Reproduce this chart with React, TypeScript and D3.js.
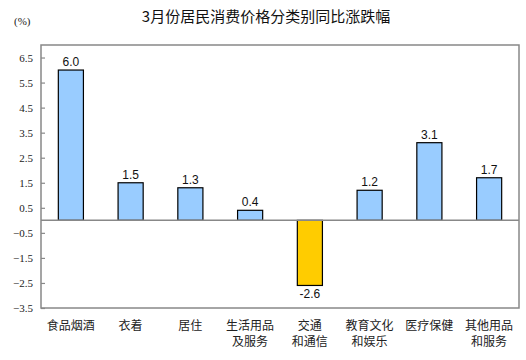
import * as d3 from 'd3';
import React, { useEffect, useRef } from 'react';

const categories = ['食品烟酒', '衣着', '居住', '生活用品\n及服务', '交通\n和通信', '教育文化\n和娱乐', '医疗保健', '其他用品\n和服务'];
const values = [6.0, 1.5, 1.3, 0.4, -2.6, 1.2, 3.1, 1.7];
const yTicks = [6.5, 5.5, 4.5, 3.5, 2.5, 1.5, 0.5, -0.5, -1.5, -2.5, -3.5];

const App: React.FC = () => {
    const svgRef = useRef<SVGSVGElement | null>(null);

    useEffect(() => {
        const width = 526;
        const height = 360;
        const margin = { top: 45, right: 7, bottom: 52, left: 41 };

        d3.select(svgRef.current).selectAll('*').remove();

        const svg = d3
            .select(svgRef.current)
            .attr('width', width)
            .attr('height', height)
            .style('font-family', 'Arial, "Liberation Sans", "Noto Sans CJK SC", sans-serif');

        const x = d3
            .scaleBand<string>()
            .domain(categories)
            .range([margin.left, width - margin.right])
            .paddingInner(0.58)
            .paddingOuter(0.29);
        const y = d3.scaleLinear().domain([-3.5, 7]).range([height - margin.bottom, margin.top]);

        // Title and unit
        svg.append('text')
            .attr('x', 266)
            .attr('y', 22)
            .attr('text-anchor', 'middle')
            .style('font-size', '15px')
            .style('font-family', '"Noto Sans CJK SC", sans-serif')
            .attr('fill', '#111')
            .text('3月份居民消费价格分类别同比涨跌幅');

        svg.append('text')
            .attr('x', 14)
            .attr('y', 25)
            .style('font-size', '11px')
            .style('font-family', '"Liberation Serif", serif')
            .attr('fill', '#222')
            .text('(%)');

        // Frame
        svg.append('rect')
            .attr('x', margin.left)
            .attr('y', margin.top)
            .attr('width', width - margin.left - margin.right)
            .attr('height', height - margin.top - margin.bottom)
            .attr('fill', 'none')
            .attr('stroke', '#888')
            .attr('stroke-width', 1.5);

        // Y axis with inward ticks
        const yAxis = svg.append('g')
            .attr('transform', `translate(${margin.left},0)`)
            .call(d3.axisRight(y).tickValues(yTicks).tickSize(4).tickFormat(d3.format('.1f')));
        yAxis.select('.domain').remove();
        yAxis.selectAll('.tick line').attr('stroke', '#888').attr('stroke-width', 1.2);
        yAxis.selectAll('.tick text')
            .attr('x', -8)
            .attr('text-anchor', 'end')
            .attr('fill', '#222')
            .style('font-size', '11px')
            .style('font-family', '"Liberation Serif", serif');

        // Bars
        svg.selectAll('rect.bar')
            .data(values)
            .enter()
            .append('rect')
            .attr('class', 'bar')
            .attr('x', (d, i) => x(categories[i])!)
            .attr('width', x.bandwidth())
            .attr('y', d => y(Math.max(0, d)))
            .attr('height', d => Math.abs(y(d) - y(0)))
            .attr('fill', d => (d < 0 ? '#FFCC00' : '#99CCFF'))
            .attr('stroke', '#000')
            .attr('stroke-width', 1.2);

        // Zero line
        svg.append('line')
            .attr('x1', margin.left)
            .attr('x2', width - margin.right)
            .attr('y1', y(0))
            .attr('y2', y(0))
            .attr('stroke', '#888')
            .attr('stroke-width', 1.5);

        // Value labels
        svg.selectAll('text.val')
            .data(values)
            .enter()
            .append('text')
            .attr('class', 'val')
            .attr('x', (d, i) => x(categories[i])! + x.bandwidth() / 2)
            .attr('y', d => (d < 0 ? y(d) + 13 : y(d) - 4))
            .attr('text-anchor', 'middle')
            .attr('fill', '#111')
            .style('font-size', '12px')
            .text(d => d.toFixed(1));

        // Category labels
        const cat = svg.selectAll('text.cat')
            .data(categories)
            .enter()
            .append('text')
            .attr('class', 'cat')
            .attr('text-anchor', 'middle')
            .attr('fill', '#222')
            .style('font-size', '12px')
            .style('font-family', '"Noto Sans CJK SC", sans-serif');
        cat.each(function (d) {
            const cx = x(d)! + x.bandwidth() / 2;
            d3.select(this)
                .selectAll('tspan')
                .data(d.split('\n'))
                .enter()
                .append('tspan')
                .attr('x', cx)
                .attr('y', (_, j) => 330 + j * 16)
                .text(t => t);
        });
    }, []);

    return <svg ref={svgRef} style={{ display: 'block', position: 'absolute', left: 0, top: 0 }}></svg>;
};

export default App;
